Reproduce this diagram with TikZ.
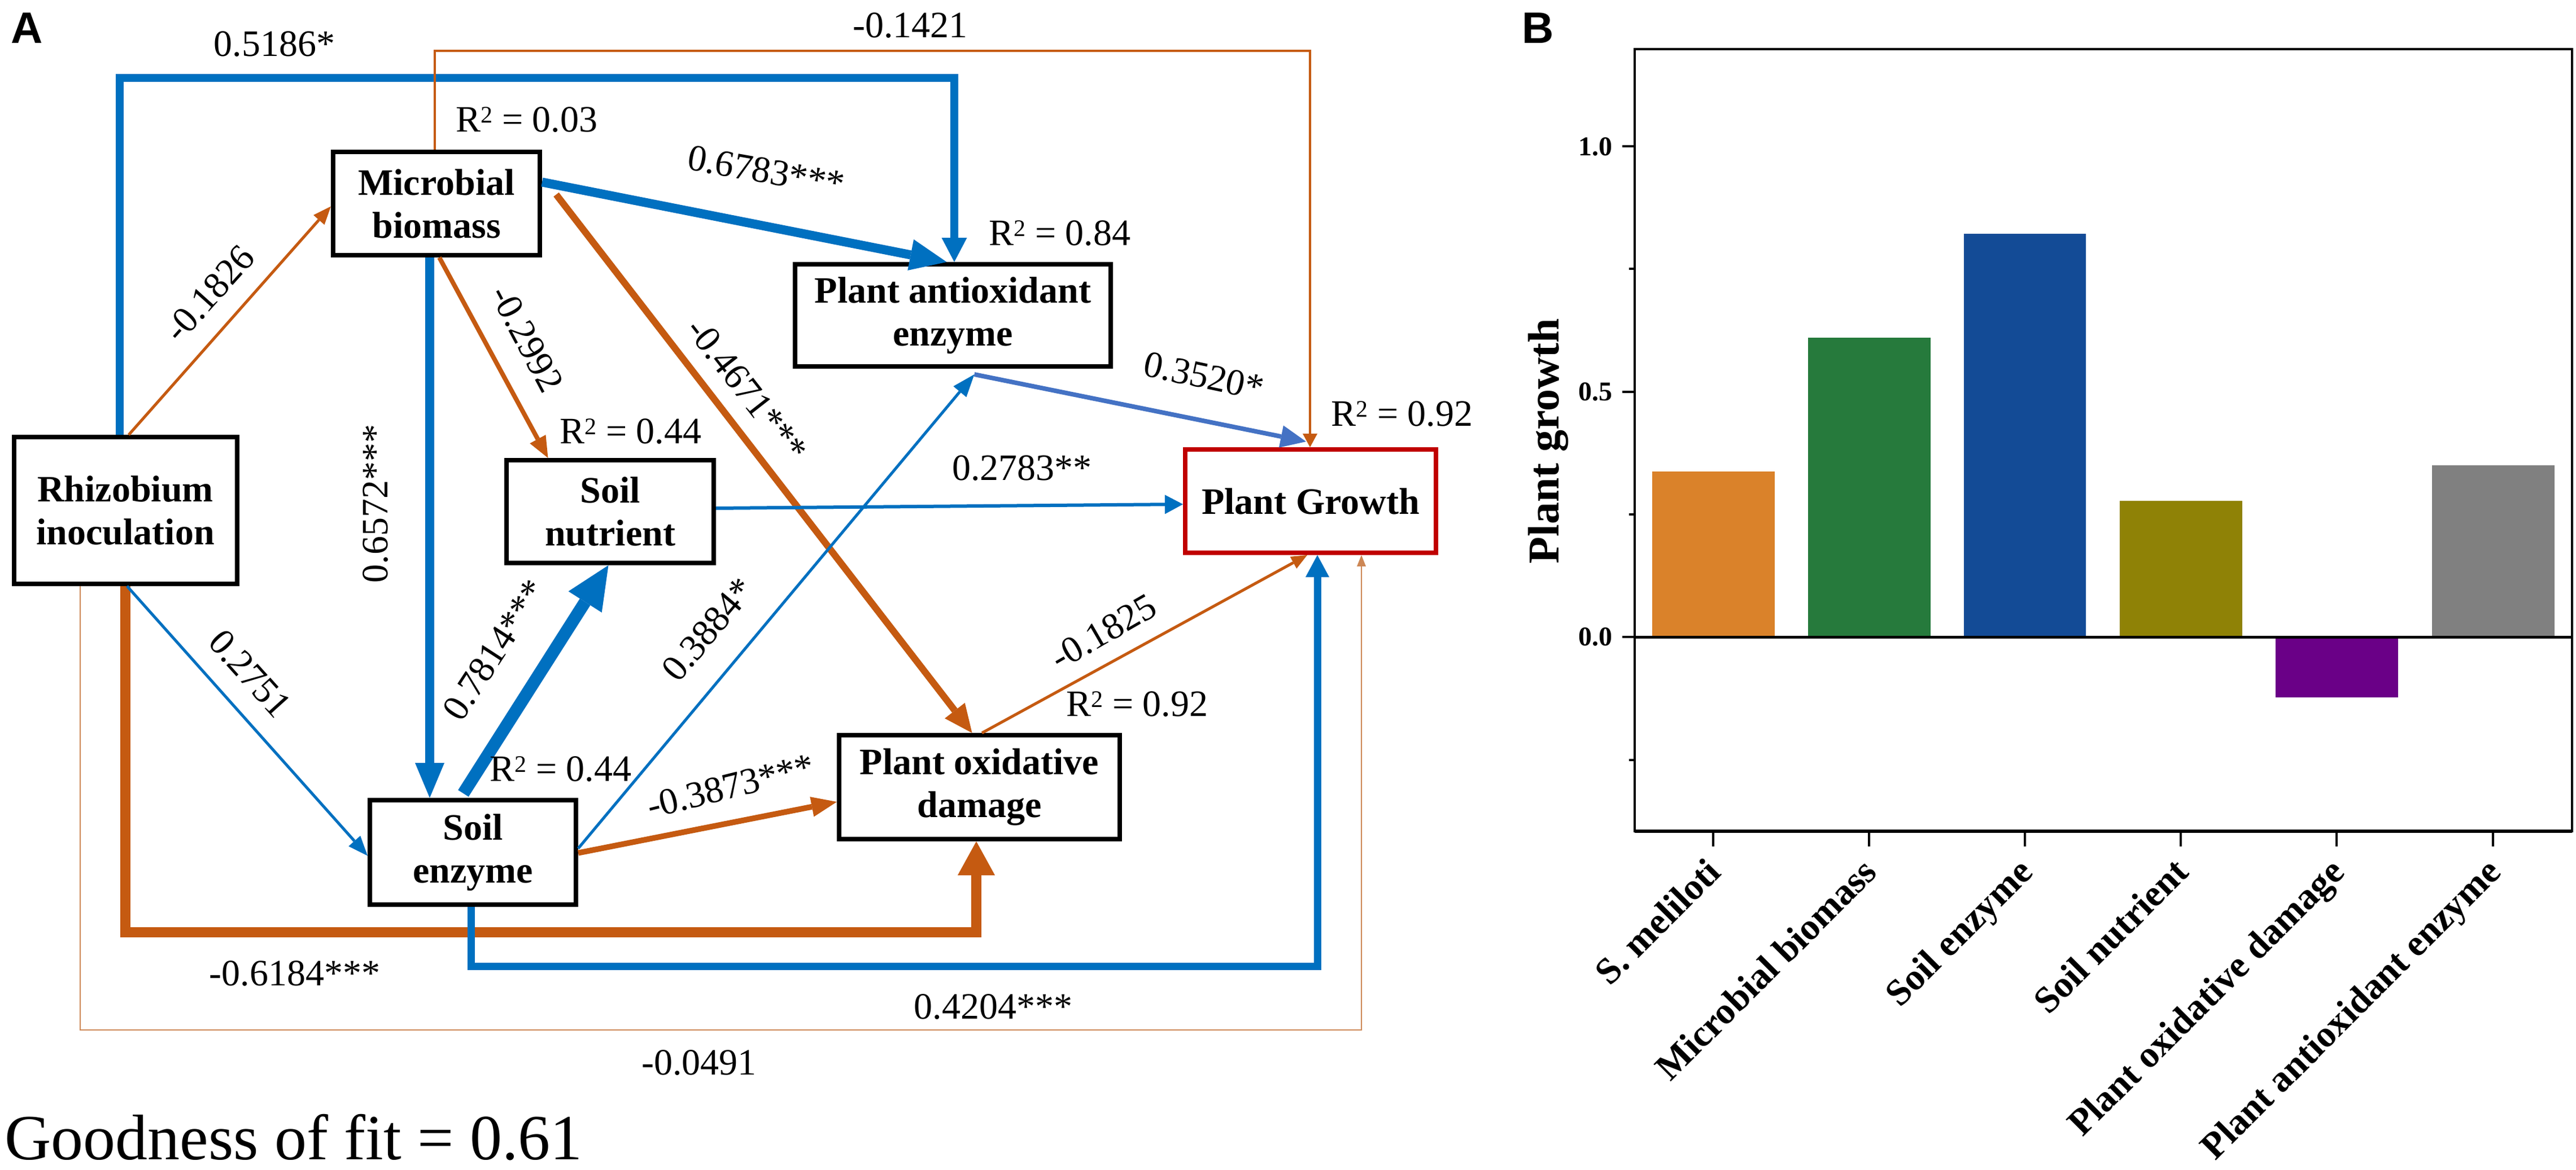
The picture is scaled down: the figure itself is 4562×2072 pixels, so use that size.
\documentclass[tikz,border=0pt]{standalone}
\usepackage{fontspec}
\setmainfont{Liberation Serif}
\newfontfamily\panelfont{Liberation Sans}
\usetikzlibrary{arrows.meta}
\definecolor{cblue}{RGB}{0,112,192}
\definecolor{corange}{RGB}{197,90,17}
\definecolor{cblueb}{RGB}{68,114,196}
\definecolor{ctan}{RGB}{205,135,85}
\definecolor{cred}{RGB}{192,0,0}
\definecolor{barA}{RGB}{218,130,42}
\definecolor{barB}{RGB}{38,122,60}
\definecolor{barC}{RGB}{19,75,150}
\definecolor{barD}{RGB}{143,130,6}
\definecolor{barE}{RGB}{106,0,135}
\definecolor{barF}{RGB}{128,128,128}
\newcommand\Rsq{R\raisebox{16pt}{\fontsize{42}{42}\selectfont 2}}
\begin{document}
\begin{tikzpicture}[x=1pt,y=-1pt,
  box/.style={draw=black, line width=8pt, inner sep=0pt, align=center, font=\bfseries\fontsize{66}{76}\selectfont},
  lab/.style={inner sep=0pt, font=\fontsize{66}{76}\selectfont},
  conn/.style={line join=miter},
  arr/.style 2 args={-{Triangle[length=#1,width=#2,line width=0pt]}},
  xlab/.style={rotate=45, anchor=base east, inner sep=0pt, font=\bfseries\fontsize{66}{76}\selectfont},
  tlab/.style={anchor=east, inner sep=0pt, font=\bfseries\fontsize{48}{56}\selectfont},
  panel/.style={anchor=north west, inner sep=0pt, font=\panelfont\bfseries\fontsize{78}{80}\selectfont}
]
\path[use as bounding box] (0,0) rectangle (4562,2072);

% panel letters
\node[panel] (pa) at (19,23) {A};
\node[panel] (pb) at (2695,23) {B};

% boxes
\node[box, minimum width=395pt, minimum height=260pt] (rh) at (222,904) {Rhizobium\\inoculation};
\node[box, minimum width=366pt, minimum height=183pt] (mb) at (773,360.5) {Microbial\\biomass};
\node[box, minimum width=559pt, minimum height=181pt] (pae) at (1687.5,558.5) {Plant antioxidant\\enzyme};
\node[box, minimum width=367pt, minimum height=182pt] (sn) at (1080.5,906) {Soil\\nutrient};
\node[box, draw=cred, minimum width=444pt, minimum height=183pt] (pg) at (2321,887.5) {Plant Growth};
\node[box, minimum width=365pt, minimum height=185pt] (se) at (837.5,1509.5) {Soil\\enzyme};
\node[box, minimum width=497pt, minimum height=184pt] (pod) at (1734.5,1394) {Plant oxidative\\damage};

% helper coordinates
\coordinate (c1) at (212,138); \coordinate (c2) at (1690,138);
\coordinate (d1) at (770,90); \coordinate (d2) at (2320,90);
\coordinate (f1) at (222,1651); \coordinate (f2) at (1729,1651);
\coordinate (g1) at (834,1711); \coordinate (g2) at (2333,1711);
\coordinate (h1) at (142,1824); \coordinate (h2) at (2411,1824);
\coordinate (m1) at ([xshift=-12pt]mb.south);
\coordinate (pj) at ([xshift=38pt,yshift=-10pt]pae.south);

% connectors
\draw[conn, draw=ctan, line width=2.5pt, arr={20pt}{16pt}] (h1 |- rh.south) -- (h1) -- (h2) -- (h2 |- pg.south);
\draw[conn, draw=cblue, line width=14pt, arr={43pt}{45pt}] (c1 |- rh.north) -- (c1) -- (c2) -- (c2 |- pae.north);
\draw[conn, draw=corange, line width=4pt, arr={24pt}{26pt}] (d1 |- mb.north) -- (d1) -- (d2) -- (d2 |- pg.north);
\draw[conn, draw=corange, line width=18pt, arr={60pt}{66pt}] (f1 |- rh.south) -- (f1) -- (f2) -- (f2 |- pod.south);
\draw[conn, draw=cblue, line width=13pt, arr={39pt}{42pt}] (g1 |- se.south) -- (g1) -- (g2) -- (g2 |- pg.south);

\draw[draw=corange, line width=5pt, arr={32pt}{26pt}] ([xshift=6pt]rh.north) -- ([yshift=-5pt]mb.west);
\draw[draw=cblue, line width=16pt, arr={65pt}{56pt}] ([yshift=38pt]mb.east) -- ([xshift=-11pt]pae.north);
\draw[draw=corange, line width=8pt, arr={38pt}{32pt}] ([xshift=5pt]mb.south) -- ([xshift=-110pt]sn.north);
\draw[draw=cblue, line width=16pt, arr={62pt}{52pt}] (m1) -- (m1 |- se.north);
\draw[draw=corange, line width=12pt, arr={50pt}{45pt}] ([xshift=25pt,yshift=16pt]mb.east) -- ([xshift=-13pt]pod.north);
\draw[draw=cblue, line width=5pt, arr={35pt}{28pt}] ([xshift=3pt]rh.south) -- ([yshift=-6pt]se.west);
\draw[draw=cblue, line width=22pt, arr={77pt}{70pt}] ([xshift=-17pt,yshift=8pt]se.north) -- ([xshift=-3pt]sn.south);
\draw[draw=cblue, line width=5pt, arr={40pt}{30pt}] ([yshift=7pt]se.east) -- (pj);
\draw[draw=corange, line width=10pt, arr={45pt}{36pt}] ([yshift=-1pt]se.east) -- ([yshift=-26pt]pod.west);
\draw[draw=cblue, line width=6pt, arr={32pt}{34pt}] ([yshift=6pt]sn.east) -- ([yshift=-5.5pt]pg.west);
\draw[draw=cblueb, line width=8pt, arr={45pt}{40pt}] (pj) -- ([xshift=-8pt,yshift=10pt]pg.north);
\draw[draw=corange, line width=5pt, arr={28pt}{24pt}] ([xshift=4.5pt]pod.north) -- ([xshift=-6pt]pg.south);

% labels
\node[lab] (l1) at (486,78) {0.5186*};
\node[lab] (l2) at (1612,45) {-0.1421};
\node[lab] (r1) at (933,212) {\Rsq{} = 0.03};
\node[lab, rotate=48] (l3) at (371,520) {-0.1826};
\node[lab, rotate=-10] (l4) at (1357,303) {0.6783***};
\node[lab] (r2) at (1877,413) {\Rsq{} = 0.84};
\node[lab, rotate=-62] (l5) at (933,600) {-0.2992};
\node[lab, rotate=-52] (l6) at (1323,690) {-0.4671***};
\node[lab, rotate=90] (l7) at (665,892) {0.6572***};
\node[lab] (r3) at (1117,764) {\Rsq{} = 0.44};
\node[lab, rotate=-12] (l8) at (2132,666) {0.3520*};
\node[lab] (r4) at (2483,733) {\Rsq{} = 0.92};
\node[lab] (l9) at (1810,829) {0.2783**};
\node[lab, rotate=-48] (l10) at (443,1193) {0.2751};
\node[lab, rotate=57] (l11) at (876,1151) {0.7814***};
\node[lab, rotate=50] (l12) at (1254,1115) {0.3884*};
\node[lab] (r5) at (993,1362) {\Rsq{} = 0.44};
\node[lab, rotate=14] (l13) at (1294,1392) {-0.3873***};
\node[lab, rotate=30] (l14) at (1954,1119) {-0.1825};
\node[lab] (r6) at (2014,1247) {\Rsq{} = 0.92};
\node[lab] (l15) at (522,1724) {-0.6184***};
\node[lab] (l16) at (1759,1783) {0.4204***};
\node[lab] (l17) at (1238,1882) {-0.0491};
\node[inner sep=0pt, anchor=base west, font=\fontsize{114}{120}\selectfont] (gof) at (8,2053) {Goodness of fit = 0.61};

% panel B: bars
\fill[barA] (2926,835) rectangle (3143,1128);
\fill[barB] (3202,598) rectangle (3419,1128);
\fill[barC] (3478,414) rectangle (3694,1128);
\fill[barD] (3754,887) rectangle (3971,1128);
\fill[barE] (4030,1128) rectangle (4247,1235);
\fill[barF] (4307,824) rectangle (4524,1128);
% frame and axes
\draw[line width=4pt] (2895,87) rectangle (4555,1472);
\draw[line width=6pt] (2895,1472) -- (4555,1472);
\draw[line width=5pt] (2895,1128) -- (4555,1128);
\foreach \yy in {259,694,1128} \draw[line width=4pt] (2873,\yy) -- (2895,\yy);
\foreach \yy in {476,911,1346} \draw[line width=4pt] (2885,\yy) -- (2895,\yy);
\foreach \xx in {3034,3310,3586,3862,4138,4415} \draw[line width=4pt] (\xx,1472) -- (\xx,1499);
% tick labels
\node[tlab] (t1) at (2856,260) {1.0};
\node[tlab] (t2) at (2856,694) {0.5};
\node[tlab] (t3) at (2856,1128) {0.0};
\node[rotate=90, anchor=base, inner sep=0pt, font=\bfseries\fontsize{78}{90}\selectfont] (ylab) at (2760,781) {Plant growth};
% x labels
\node[xlab] (x1) at (3051,1548) {S. meliloti};
\node[xlab] (x2) at (3327,1548) {Microbial biomass};
\node[xlab] (x3) at (3603,1548) {Soil enzyme};
\node[xlab] (x4) at (3879,1548) {Soil nutrient};
\node[xlab] (x5) at (4155,1548) {Plant oxidative damage};
\node[xlab] (x6) at (4432,1548) {Plant antioxidant enzyme};
\end{tikzpicture}
\end{document}
